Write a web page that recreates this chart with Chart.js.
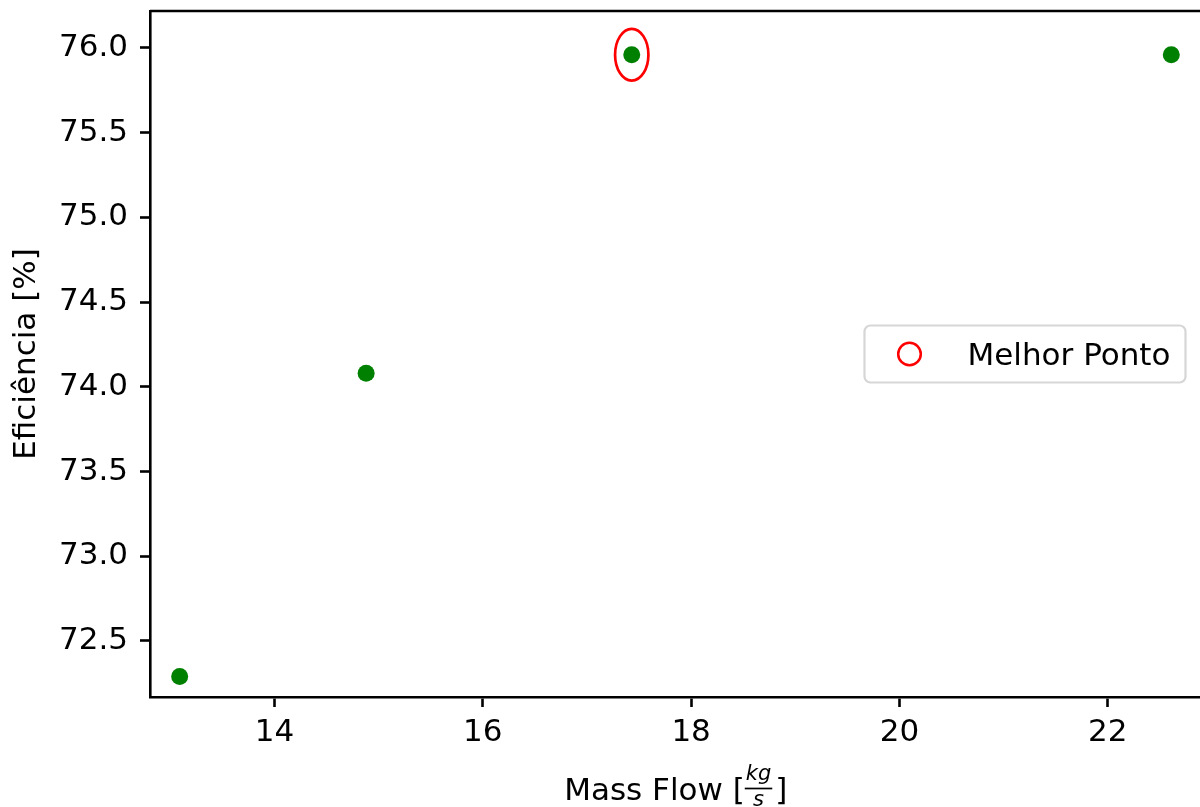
<!DOCTYPE html>
<html>
<head>
<meta charset="utf-8">
<script src="https://cdn.jsdelivr.net/npm/chart.js@4.4.1/dist/chart.umd.min.js"></script>
<style>
  html, body { margin: 0; padding: 0; overflow: hidden; background: #fff; }
  #wrap { width: 1210px; height: 807px; position: relative; }
</style>
</head>
<body>
<div id="wrap"><canvas id="c"></canvas></div>
<script>
// ---- data ----
const massFlow = [13.09, 14.88, 17.43, 22.61];
const efficiency = [72.29, 74.08, 75.96, 75.96];
const bestMassFlow = [17.43];
const bestEfficiency = [75.96];
const bestLabel = 'Melhor Ponto';
const xTickValues = [14, 16, 18, 20, 22];
const xTickLabels = ['14', '16', '18', '20', '22'];
const yTickValues = [72.5, 73.0, 73.5, 74.0, 74.5, 75.0, 75.5, 76.0];
const yTickLabels = ['72.5', '73.0', '73.5', '74.0', '74.5', '75.0', '75.5', '76.0'];
const xLimits = [12.805, 22.90];
const yLimits = [72.169, 76.218];
// ellipse half-size around the best point, in data units
const bestHalfWidth = 0.16;
const bestHalfHeight = 0.153;

const FONT = 'DejaVu Sans';
const FS = 31;
const LW = 2.6;

const mainPoints = massFlow.map((x, i) => ({ x: x, y: efficiency[i] }));
const bestPoints = bestMassFlow.map((x, i) => ({ x: x, y: bestEfficiency[i] }));

const decorPlugin = {
  id: 'decor',
  afterDatasetsDraw(chart) {
    const ctx = chart.ctx;
    const xs = chart.scales.x, ys = chart.scales.y;
    ctx.save();
    ctx.strokeStyle = '#ff0000';
    ctx.lineWidth = 2.7;
    chart.data.datasets[1].data.forEach(p => {
      const cx = xs.getPixelForValue(p.x);
      const cy = ys.getPixelForValue(p.y);
      const rx = xs.getPixelForValue(p.x + bestHalfWidth) - cx;
      const ry = cy - ys.getPixelForValue(p.y + bestHalfHeight);
      ctx.beginPath();
      ctx.ellipse(cx, cy, Math.abs(rx), Math.abs(ry), 0, 0, Math.PI * 2);
      ctx.stroke();
    });
    ctx.restore();
  },
  afterDraw(chart) {
    const ctx = chart.ctx;
    const a = chart.chartArea;
    ctx.save();
    // top and right spines
    ctx.strokeStyle = '#000';
    ctx.lineWidth = LW;
    ctx.beginPath();
    ctx.moveTo(a.left, a.top);
    ctx.lineTo(a.right, a.top);
    ctx.lineTo(a.right, a.bottom);
    ctx.stroke();

    // legend (center right)
    const lw = 321, lh = 57;
    const lx = a.right - 16 - lw;
    const ly = (a.top + a.bottom) / 2 - lh / 2;
    ctx.fillStyle = 'rgba(255,255,255,0.8)';
    ctx.strokeStyle = 'rgba(204,204,204,0.8)';
    ctx.lineWidth = 2.2;
    ctx.beginPath();
    ctx.roundRect(lx, ly, lw, lh, 6);
    ctx.fill();
    ctx.stroke();
    ctx.strokeStyle = '#ff0000';
    ctx.lineWidth = 2.5;
    ctx.beginPath();
    ctx.arc(lx + 45, ly + lh / 2, 11.3, 0, Math.PI * 2);
    ctx.stroke();
    ctx.fillStyle = '#000';
    ctx.font = FS + 'px "' + FONT + '"';
    ctx.textBaseline = 'alphabetic';
    ctx.textAlign = 'left';
    ctx.fillText(chart.data.datasets[1].label, lx + 103, ly + lh / 2 + 11);

    // x axis title with fraction
    const mainPart = 'Mass Flow [';
    const endPart = ']';
    ctx.font = FS + 'px "' + FONT + '"';
    const w1 = ctx.measureText(mainPart).width;
    const w3 = ctx.measureText(endPart).width;
    const fracFont = 'italic 21px "' + FONT + '"';
    ctx.font = fracFont;
    const wNum = ctx.measureText('kg').width;
    const wDen = ctx.measureText('s').width;
    const fracW = Math.max(wNum, wDen) + 2;
    const total = w1 + fracW + 3 + w3;
    const cxT = (a.left + a.right) / 2;
    const x0 = cxT - total / 2;
    const base = 800;
    ctx.font = FS + 'px "' + FONT + '"';
    ctx.fillText(mainPart, x0, base);
    const fx = x0 + w1;
    ctx.font = fracFont;
    ctx.fillText('kg', fx + (fracW - wNum) / 2, 780);
    ctx.fillText('s', fx + (fracW - wDen) / 2, 806);
    ctx.lineWidth = 1.7;
    ctx.strokeStyle = '#000';
    ctx.beginPath();
    ctx.moveTo(fx, 788.5);
    ctx.lineTo(fx + fracW, 788.5);
    ctx.stroke();
    ctx.font = FS + 'px "' + FONT + '"';
    ctx.fillText(endPart, fx + fracW + 3, base);
    ctx.restore();
  }
};

new Chart(document.getElementById('c'), {
  type: 'scatter',
  data: {
    datasets: [
      {
        label: 'data',
        data: mainPoints,
        pointRadius: 8.5,
        pointHoverRadius: 8.5,
        backgroundColor: '#008000',
        borderWidth: 0
      },
      {
        label: bestLabel,
        data: bestPoints,
        pointRadius: 0,
        pointHoverRadius: 0,
        borderWidth: 0
      }
    ]
  },
  options: {
    responsive: true,
    maintainAspectRatio: false,
    animation: false,
    devicePixelRatio: 1,
    layout: { padding: { top: 11, right: 4, left: 0, bottom: 0 } },
    plugins: { legend: { display: false }, tooltip: { enabled: false } },
    scales: {
      x: {
        type: 'linear',
        min: xLimits[0],
        max: xLimits[1],
        afterBuildTicks: s => { s.ticks = xTickValues.map(v => ({ value: v })); },
        afterFit: s => { s.height = 110; s.paddingLeft = 0; s.paddingRight = 0; },
        grid: { display: true, drawOnChartArea: false, drawTicks: true, tickLength: 10, tickColor: '#000', tickWidth: LW },
        border: { display: true, color: '#000', width: LW },
        ticks: {
          color: '#000',
          font: { family: FONT, size: FS },
          padding: 7,
          maxRotation: 0,
          autoSkip: false,
          callback: (v, i) => xTickLabels[i]
        }
      },
      y: {
        type: 'linear',
        min: yLimits[0],
        max: yLimits[1],
        afterBuildTicks: s => { s.ticks = yTickValues.map(v => ({ value: v })); },
        afterFit: s => { s.width = 150; s.paddingTop = 0; s.paddingBottom = 0; },
        grid: { display: true, drawOnChartArea: false, drawTicks: true, tickLength: 10, tickColor: '#000', tickWidth: LW },
        border: { display: true, color: '#000', width: LW },
        title: {
          display: true,
          text: 'Eficiência [%]',
          color: '#000',
          font: { family: FONT, size: FS },
          padding: { top: 8, bottom: 0 }
        },
        ticks: {
          color: '#000',
          font: { family: FONT, size: FS },
          padding: 12,
          autoSkip: false,
          callback: (v, i) => yTickLabels[i]
        }
      }
    }
  },
  plugins: [decorPlugin]
});
</script>
</body>
</html>
